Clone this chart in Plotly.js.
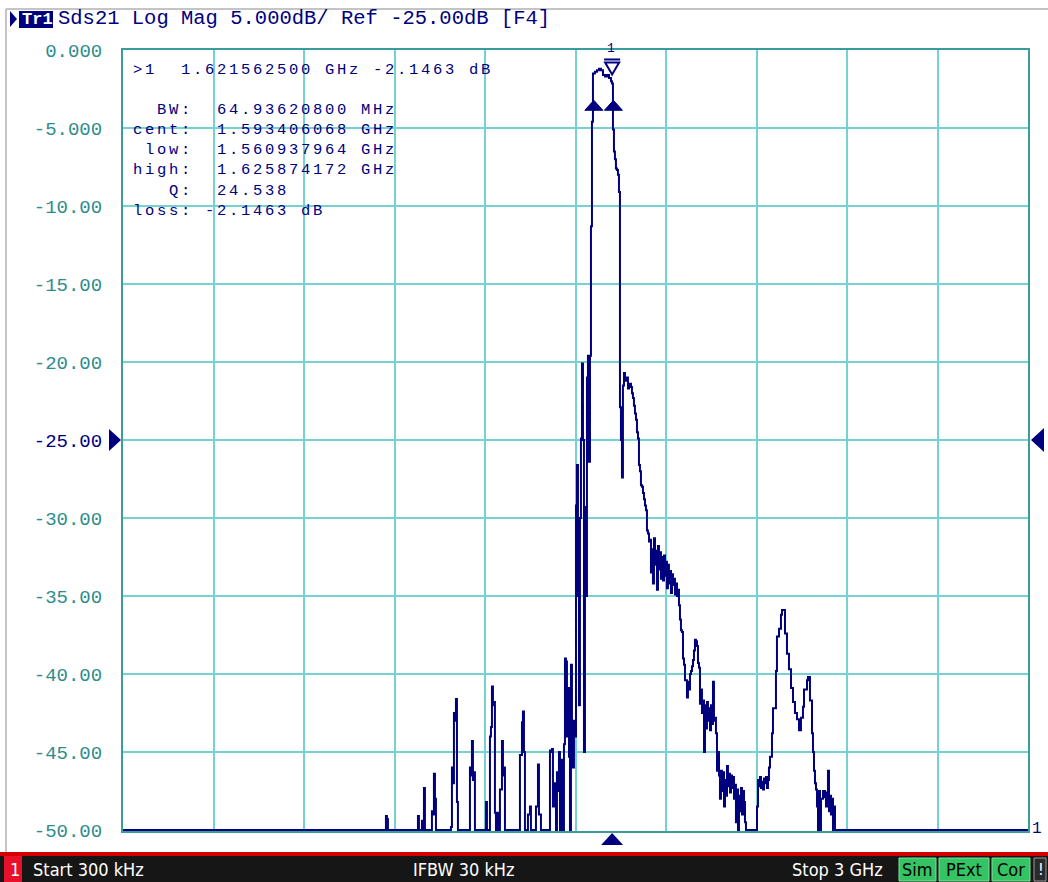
<!DOCTYPE html>
<html><head><meta charset="utf-8">
<script src="https://cdn.plot.ly/plotly-3.0.1.min.js"></script>
<style>html,body{margin:0;padding:0;background:#fff;}#chart{width:1048px;height:882px;}</style>
</head><body><div id="chart"></div>
<script>
// ---- sweep settings ----
const startGHz = 0.0003;
const stopGHz = 3.0;

// ---- trace data: frequency in GHz, |S21| in dB ----
const freqGHz = [
0.0003,0.8685,0.8718,0.8751,0.8785,0.9746,0.9779,0.9812,0.9878,0.9912,0.9945,0.9978,1.0011,
1.0210,1.0243,1.0276,1.0309,1.0343,1.0376,
1.0840,1.0873,1.0906,1.0939,1.0972,1.1006,1.1039,1.1072,1.1105,
1.1470,1.1503,1.1536,1.1569,1.1602,1.1635,1.1668,
1.2000,1.2033,1.2066,1.2133,1.2166,1.2199,1.2232,1.2265,1.2298,1.2331,1.2365,1.2398,1.2431,1.2464,
1.2497,1.2530,1.2564,1.2597,1.2630,1.2663,
1.3127,1.3160,1.3193,1.3227,1.3260,1.3293,1.3326,1.3392,1.3425,1.3459,1.3492,1.3525,
1.3657,1.3691,1.3724,1.3757,1.3790,1.3823,1.3856,
1.4121,1.4155,1.4188,1.4221,1.4254,1.4287,1.4320,1.4354,1.4387,1.4420,1.4453,1.4486,1.4519,1.4553,
1.4586,1.4619,1.4652,1.4685,1.4718,1.4752,1.4785,1.4818,1.4851,1.4884,1.4917,1.4950,1.4983,
1.5017,1.5050,1.5083,1.5116,1.5149,1.5182,1.5216,1.5249,1.5282,1.5315,1.5348,1.5381,1.5414,1.5448,
1.5481,1.5514,1.5547,1.5580,1.5646,1.5713,1.5779,1.5845,1.5912,1.5978,1.6044,1.6111,1.6177,1.6210,
1.6243,1.6276,1.6309,1.6342,1.6376,1.6409,1.6442,1.6475,1.6508,1.6541,1.6574,1.6608,1.6641,1.6674,
1.6707,1.6740,1.6774,1.6807,1.6840,1.6873,1.6906,1.6939,1.6972,1.7006,1.7039,1.7072,1.7105,1.7138,
1.7171,1.7205,1.7238,1.7271,1.7304,1.7337,1.7370,1.7403,1.7437,1.7470,1.7503,1.7536,1.7569,1.7602,
1.7636,1.7669,1.7702,1.7735,1.7768,1.7801,1.7834,1.7867,1.7901,1.7934,1.7967,1.8000,1.8033,1.8066,
1.8099,1.8133,1.8166,1.8199,1.8232,1.8265,1.8298,1.8332,1.8365,1.8398,1.8431,1.8464,1.8497,1.8530,
1.8564,1.8597,1.8630,1.8663,1.8696,1.8729,1.8763,1.8796,1.8829,1.8862,1.8895,1.8928,1.8961,1.8994,
1.9028,1.9061,1.9094,1.9127,1.9160,1.9193,1.9227,1.9260,1.9293,1.9326,1.9359,1.9392,1.9425,1.9459,
1.9492,1.9525,1.9558,1.9591,1.9624,1.9657,1.9691,1.9724,1.9757,1.9790,1.9823,1.9856,1.9890,1.9923,
1.9956,1.9989,2.0022,2.0055,2.0088,2.0122,2.0155,2.0188,2.0221,2.0254,2.0287,2.0320,2.0354,2.0387,
2.0420,2.0453,2.0486,2.0519,2.0552,2.0586,2.0619,2.0652,2.0983,2.1017,2.1050,2.1083,2.1116,2.1149,
2.1182,2.1215,2.1249,2.1282,2.1315,2.1348,2.1381,2.1414,2.1448,2.1514,2.1547,2.1646,2.1679,2.1746,
2.1812,2.1845,2.1878,2.1945,2.2011,2.2077,2.2144,2.2210,2.2276,2.2343,2.2409,2.2475,2.2541,2.2575,
2.2674,2.2707,2.2773,2.2840,2.2873,2.2906,2.2939,2.2972,2.3006,2.3039,2.3072,2.3105,2.3138,2.3204,
2.3271,2.3304,2.3337,2.3370,2.3403,2.3436,2.3470,2.3503,2.3536,2.3569,2.3602,3.0
];
const s21dB = [
-50,-50,-49.1,-49.3,-50,-50,-49.1,-50,-50,-49.4,-50,-47.3,-50,
-50,-48.8,-49.0,-46.4,-48.0,-50,
-50,-49.8,-46.0,-47.0,-42.5,-43.0,-41.6,-48.2,-50,
-50,-46.0,-46.5,-44.3,-46.8,-46.3,-50,
-50,-48.2,-50,-50,-44.0,-43.4,-40.8,-42.0,-41.8,-48.9,-50,-48.9,-50,-50,
-47.4,-47.4,-44.3,-46.5,-46.0,-50,
-50,-45.2,-45.2,-43.1,-42.4,-45.0,-50,-50,-49.0,-49.0,-48.5,-50,
-50,-48.5,-48.5,-45.8,-49.0,-49.0,-50,
-50,-44.9,-45.0,-44.8,-48.5,-47.0,-47.9,-50,-46.3,-47.5,-45.0,-50,-46.0,-45.5,
-50,-44.5,-39.0,-39.2,-44.0,-40.9,-45.3,-50,-39.4,-45.0,-46.0,-43.0,-44.0,
-29.2,-26.6,-35.0,-42.0,-30.0,-24.9,-20.1,-25.0,-45.0,-29.3,-35.0,-21.0,-19.6,-26.4,
-19.6,-11.3,-4.6,-1.5,-1.4,-1.3,-1.2,-1.3,-1.6,-1.7,-1.6,-1.8,-2.0,-2.15,
-5.1,-6.5,-7.0,-7.6,-7.7,-8.0,-9.1,-22.9,-25.0,-27.4,-21.5,-20.7,-21.0,-21.2,
-21.0,-21.7,-21.5,-21.4,-21.6,-22.0,-22.3,-22.8,-23.3,-23.7,-24.5,-24.9,-26.6,-27.0,
-27.9,-28.0,-28.4,-28.8,-29.2,-29.5,-30.8,-31.0,-31.5,-31.4,-33.5,-32.0,-34.2,-31.3,
-33.0,-32.1,-34.6,-31.8,-33.3,-32.2,-33.9,-32.5,-34.0,-32.4,-33.7,-32.8,-34.5,-33.0,
-34.2,-33.4,-34.8,-33.6,-34.3,-33.9,-34.9,-34.2,-35.0,-34.6,-35.6,-36.5,-37.2,-37.3,
-39.0,-39.4,-40.4,-40.4,-41.5,-40.5,-41.0,-40.0,-39.8,-39.5,-39.1,-38.5,-37.8,-37.9,
-38.2,-39.3,-39.6,-41.9,-41.0,-42.5,-41.7,-45.0,-42.0,-43.5,-41.8,-43.0,-42.2,-43.6,
-42.0,-43.2,-40.5,-43.0,-42.8,-43.8,-46.2,-45.0,-46.5,-48.0,-46.2,-47.5,-46.3,-48.5,
-46.8,-47.8,-45.9,-47.2,-46.4,-47.6,-46.5,-47.3,-46.6,-48.0,-47.1,-49.5,-47.4,-50,
-47.8,-48.8,-47.3,-49.0,-47.5,-48.2,-49.5,-50,-50,-48.5,-46.8,-47.2,-46.6,-47.3,
-46.9,-47.4,-46.7,-47.0,-46.6,-47.3,-46.8,-46.0,-45.3,-43.8,-42.2,-39.8,-37.6,-37.1,
-36.2,-35.9,-35.9,-37.4,-38.7,-39.7,-40.9,-41.8,-42.5,-42.9,-43.6,-42.8,-42.1,-41.0,
-40.4,-40.2,-41.7,-43.8,-45.0,-46.2,-47.0,-47.4,-48.5,-50,-47.5,-50,-48.0,-47.5,
-47.9,-48.5,-47.6,-46.2,-48.8,-47.8,-49.0,-48.0,-50,-48.5,-50,-50
];

// ---- axis labels ----
const yTickVals = [0,-5,-10,-15,-20,-25,-30,-35,-40,-45,-50];
const yTickText = ['0.000','-5.000','-10.00','-15.00','-20.00','-25.00','-30.00','-35.00','-40.00','-45.00','-50.00'];
const refLevelDb = -25;

// ---- marker / bandwidth readout ----
const marker1GHz = 1.6215625;
const marker1Db = -2.1463;
const bwMHz = 64.936208;
const centGHz = 1.593406068;
const lowGHz = 1.560937964;
const highGHz = 1.625874172;
const qFactor = 24.538;

// ---- status texts ----
const headerText = 'Sds21 Log Mag 5.000dB/ Ref -25.00dB [F4]';
const statusStart = 'Start 300 kHz';
const statusIfbw = 'IFBW 30 kHz';
const statusStop = 'Stop 3 GHz';
const statusFlags = ['Sim','PExt','Cor'];

const NAVY = '#00007f';
const TEAL = '#2e8c8c';
const GRID = '#74d2d2';
const FRAME = '#3b9c9c';
const MONO = 'Liberation Mono, DejaVu Sans Mono, monospace';
const SANS = 'Liberation Sans Narrow, DejaVu Sans Condensed, Liberation Sans, sans-serif';

const W = 1048, H = 882, L = 123, R = 20, T = 50, B = 51;
const PW = W - L - R, PH = H - T - B;
const dbPerPx = 50 / 780;
const px2x = px => (px - L) / PW;
const py2y = py => (H - B - py) / PH;

const nb = s => s.replace(/ /g, '\u00a0');
const spaced = (s, ls) => '<span style="letter-spacing:' + ls + 'px">' + nb(s) + '</span>';
const tickText = yTickText.map((t, i) => yTickVals[i] === refLevelDb ? '<span style="color:' + NAVY + '">' + t + '</span>' : t);
const xDivs = [];
for (let k = 0; k <= 10; k++) xDivs.push(startGHz + k * (stopGHz - startGHz) / 10);

const trace = {
  x: freqGHz, y: s21dB, type: 'scatter', mode: 'lines',
  line: {color: NAVY, width: 2, shape: 'hv'}, hoverinfo: 'skip', showlegend: false
};

const shapes = [];
const ann = [];
function txt(text, px, py, opts) {
  ann.push(Object.assign({
    text: text, xref: 'paper', yref: 'paper', x: px2x(px), y: py2y(py),
    xanchor: 'left', yanchor: 'middle', showarrow: false,
    font: {family: MONO, size: 20, color: NAVY}
  }, opts || {}));
}
function rect(x0, y0, x1, y1, fill, line) {
  shapes.push({type: 'rect', xref: 'paper', yref: 'paper', x0: px2x(x0), x1: px2x(x1), y0: py2y(y0), y1: py2y(y1),
    fillcolor: fill, line: line || {width: 0}, layer: 'above'});
}

// outer gray frame
shapes.push({type: 'line', xref: 'paper', yref: 'paper', x0: px2x(6), x1: px2x(6), y0: py2y(9), y1: py2y(852), line: {color: '#c4c4c4', width: 2}});
shapes.push({type: 'line', xref: 'paper', yref: 'paper', x0: px2x(6), x1: px2x(1048), y0: py2y(9), y1: py2y(9), line: {color: '#c4c4c4', width: 2}});

// header
shapes.push({type: 'path', xref: 'paper', yref: 'paper',
  path: 'M ' + px2x(10) + ',' + py2y(11) + ' L ' + px2x(17) + ',' + py2y(19) + ' L ' + px2x(10) + ',' + py2y(27) + ' Z',
  fillcolor: NAVY, line: {width: 0}});
rect(19, 11, 53, 28, NAVY);
txt('<b>Tr1</b>', 20, 19.5, {font: {family: MONO, size: 17, color: '#ffffff'}});
txt(nb(headerText), 56, 19, {font: {family: MONO, size: 20.5, color: NAVY}});

// marker readout
const RFS = 15.5, RLS = 2.7;
const firstLine = '>1  ' + marker1GHz.toFixed(9) + ' GHz ' + marker1Db.toFixed(4) + ' dB';
const blockLines = [
  '  BW:  ' + bwMHz.toFixed(8) + ' MHz',
  'cent:  ' + centGHz.toFixed(9) + ' GHz',
  ' low:  ' + lowGHz.toFixed(9) + ' GHz',
  'high:  ' + highGHz.toFixed(9) + ' GHz',
  '   Q:  ' + qFactor.toFixed(3),
  'loss: ' + marker1Db.toFixed(4) + ' dB'
];
txt(spaced(firstLine, RLS), 131, 70, {font: {family: MONO, size: RFS, color: NAVY}});
txt(blockLines.map(s => spaced(s, RLS)).join('<br>'), 131, 160, {align: 'left', font: {family: MONO, size: RFS, color: NAVY}});

// bandwidth markers (filled up-triangles above the -3 dB points)
[lowGHz, highGHz].forEach(f => {
  shapes.push({type: 'path', xref: 'x', yref: 'y', xsizemode: 'pixel', ysizemode: 'pixel',
    xanchor: f, yanchor: marker1Db - 3,
    path: 'M -9,20 L 9,20 L 0,30 Z', fillcolor: NAVY, line: {color: NAVY, width: 1}});
});
// active marker 1 symbol
shapes.push({type: 'path', xref: 'x', yref: 'y', xsizemode: 'pixel', ysizemode: 'pixel',
  xanchor: marker1GHz, yanchor: marker1Db,
  path: 'M -7,21 L 7,21 L 0,9 Z', fillcolor: '#ffffff', line: {color: NAVY, width: 2}});
shapes.push({type: 'line', xref: 'x', yref: 'y', xsizemode: 'pixel', ysizemode: 'pixel',
  xanchor: marker1GHz, yanchor: marker1Db, x0: -8, x1: 8, y0: 24, y1: 24, line: {color: NAVY, width: 2}});
ann.push({text: '1', xref: 'x', yref: 'y', x: marker1GHz, y: marker1Db, yshift: 35, xshift: -1,
  showarrow: false, font: {family: MONO, size: 13, color: NAVY}});
// stimulus marker under the axis
shapes.push({type: 'path', xref: 'x', yref: 'paper', xsizemode: 'pixel', ysizemode: 'pixel',
  xanchor: marker1GHz, yanchor: py2y(830),
  path: 'M -11,-15 L 11,-15 L 0,-3 Z', fillcolor: NAVY, line: {width: 0}});
// reference level arrows
shapes.push({type: 'path', xref: 'paper', yref: 'y', xsizemode: 'pixel', ysizemode: 'pixel',
  xanchor: 0, yanchor: refLevelDb, path: 'M -14,11 L -14,-11 L -2,0 Z', fillcolor: NAVY, line: {width: 0}});
shapes.push({type: 'path', xref: 'paper', yref: 'y', xsizemode: 'pixel', ysizemode: 'pixel',
  xanchor: 1, yanchor: refLevelDb, path: 'M 16,12 L 16,-12 L 3,0 Z', fillcolor: NAVY, line: {width: 0}});
// trace number at the right end
txt('1', 1030, 829, {font: {family: MONO, size: 16, color: NAVY}});

// status bar
const SFS = 18;
rect(0, 852, 1048, 856, '#d40000');
rect(0, 856, 1048, 882, '#161616');
rect(4, 856, 22, 882, '#e8102a');
txt('1', 8, 869, {font: {family: SANS, size: SFS, color: '#ffffff'}});
txt(statusStart, 31, 869, {font: {family: SANS, size: SFS, color: '#ffffff'}});
txt(statusIfbw, 411, 869, {font: {family: SANS, size: SFS, color: '#ffffff'}});
txt(statusStop, 790, 869, {font: {family: SANS, size: SFS, color: '#ffffff'}});
const flagBoxes = [[899, 936], [939, 989], [992, 1030]];
statusFlags.forEach((s, i) => {
  rect(flagBoxes[i][0], 858, flagBoxes[i][1], 881, '#34c463', {color: '#7de09a', width: 1});
  ann.push({text: s, xref: 'paper', yref: 'paper', x: px2x((flagBoxes[i][0] + flagBoxes[i][1]) / 2), y: py2y(869.5),
    xanchor: 'center', yanchor: 'middle', showarrow: false, font: {family: SANS, size: SFS, color: '#000000'}});
});
rect(1034, 858, 1046, 881, '#2a2a2a', {color: '#9a9a9a', width: 1});
txt('!', 1036, 869, {font: {family: SANS, size: 16, color: '#ffffff'}});

const layout = {
  width: W, height: H,
  margin: {l: L, r: R, t: T, b: B, pad: 0},
  paper_bgcolor: '#ffffff', plot_bgcolor: '#ffffff',
  showlegend: false,
  xaxis: {range: [startGHz, stopGHz], tickvals: xDivs, showticklabels: false, ticks: '',
    showgrid: true, gridcolor: GRID, gridwidth: 2, zeroline: false,
    showline: true, mirror: true, linecolor: FRAME, linewidth: 2, layer: 'below traces', fixedrange: true},
  yaxis: {range: [-50 - dbPerPx, 0], tickvals: yTickVals, ticktext: tickText, ticks: '',
    ticklabelstandoff: 15,
    tickfont: {family: MONO, size: 19, color: TEAL},
    showgrid: true, gridcolor: GRID, gridwidth: 2, zeroline: false,
    showline: true, mirror: true, linecolor: FRAME, linewidth: 2, layer: 'below traces', fixedrange: true},
  shapes: shapes,
  annotations: ann
};

Plotly.newPlot('chart', [trace], layout, {staticPlot: true, displayModeBar: false});
</script>
</body></html>
